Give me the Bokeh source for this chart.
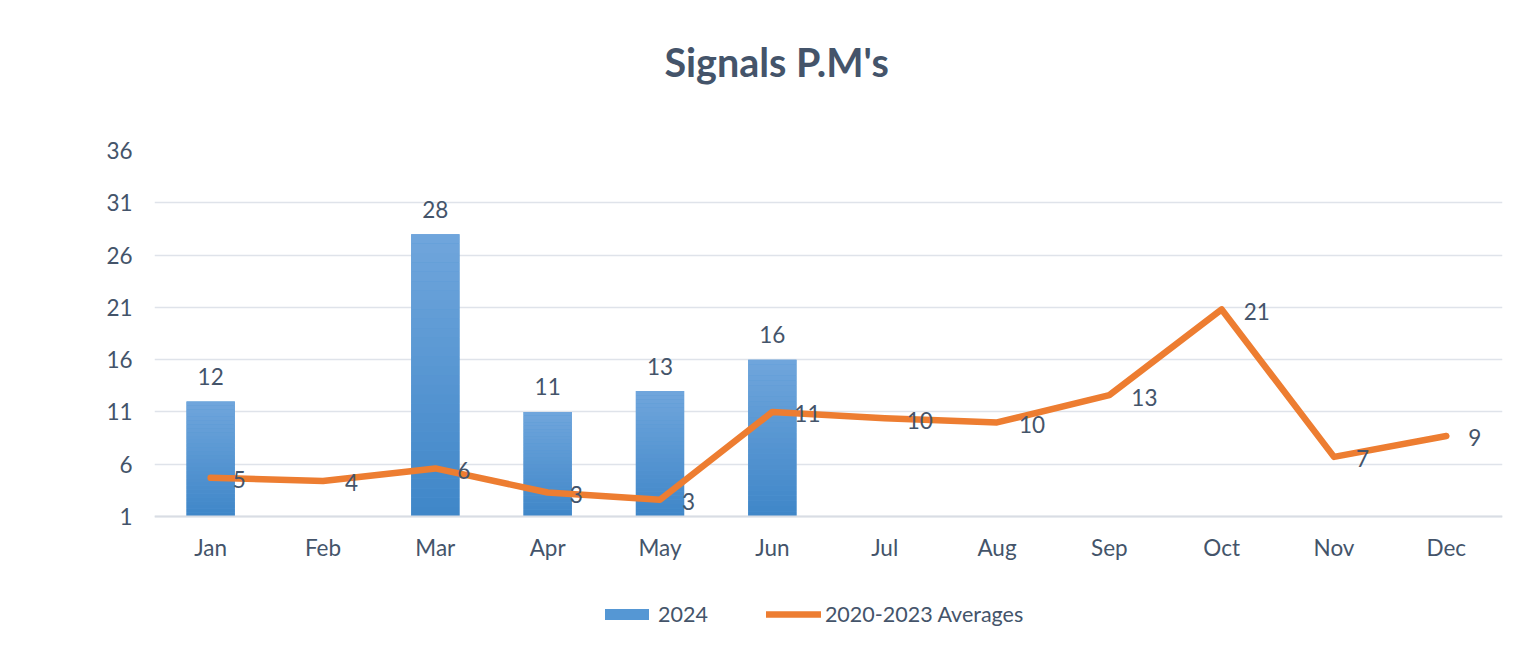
from bokeh.plotting import figure
from bokeh.models import ColumnDataSource, FactorRange, Range1d, FixedTicker, Legend, LegendItem, Title
from bokeh.core.properties import value
from bokeh.embed import file_html
from bokeh.resources import INLINE

months = ["Jan", "Feb", "Mar", "Apr", "May", "Jun", "Jul", "Aug", "Sep", "Oct", "Nov", "Dec"]
bar_months = ["Jan", "Mar", "Apr", "May", "Jun"]
bar_values = [12, 28, 11, 13, 16]
avg_values = [4.7, 4.4, 5.6, 3.3, 2.6, 11.0, 10.4, 10.0, 12.6, 20.8, 6.7, 8.7]
y_ticks = [1, 6, 11, 16, 21, 26, 31, 36]

TEXT = "#44546a"
FONT = "Lato"
FS = "22.5px"
BASE = 1
Y_MAX = 36

# layout: value axis spans 366px for 1..36; the frame extends 139px further down
# so that the category labels and the legend live inside it
PLOT_H = 366
EXTRA = 139
y_start = BASE - EXTRA * (Y_MAX - BASE) / PLOT_H

p = figure(frame_width=1348, frame_height=PLOT_H + EXTRA, output_backend="svg", toolbar_location=None,
           x_range=FactorRange(*months, range_padding=0), y_range=Range1d(y_start, Y_MAX),
           min_border_left=154, min_border_right=6, min_border_top=150, min_border_bottom=0)
p.outline_line_color = None
p.background_fill_color = "white"
p.border_fill_color = "white"

spacer = Title(text=" ", text_font_size="10px", standoff=53)
p.add_layout(spacer, "above")
main_title = Title(text="Signals P.M's", align="left", offset=510, text_font=FONT, text_font_style="bold",
                   text_font_size="39.5px", text_color=TEXT, standoff=0)
p.add_layout(main_title, "above")

# axes
p.yaxis.ticker = FixedTicker(ticks=y_ticks)
p.yaxis.axis_line_color = None
p.yaxis.major_tick_line_color = None
p.yaxis.minor_tick_line_color = None
p.yaxis.major_label_standoff = 16
p.yaxis.major_label_text_font = FONT
p.yaxis.major_label_text_font_size = FS
p.yaxis.major_label_text_color = TEXT

p.xaxis.fixed_location = BASE
p.xaxis.axis_line_color = "#d9dde4"
p.xaxis.axis_line_width = 2
p.xaxis.major_tick_line_color = None
p.xaxis.minor_tick_line_color = None
p.xaxis.major_label_standoff = 11
p.xaxis.major_label_text_font = FONT
p.xaxis.major_label_text_font_size = FS
p.xaxis.major_label_text_color = TEXT

p.xgrid.grid_line_color = None
p.ygrid.grid_line_color = "#dfe3ea"
p.ygrid.grid_line_width = 1.5

# bars with vertical gradient (light top, dark bottom)
bar_src = ColumnDataSource(dict(x=bar_months, top=bar_values, bottom=[BASE] * len(bar_values),
                                lab=[str(v) for v in bar_values]))
bar_r = p.vbar(x="x", top="top", bottom="bottom", width=0.43, source=bar_src,
               fill_color="#5597d4", line_color=None)

N = 30
c_top = (0x70, 0xa6, 0xdc)
c_bot = (0x3f, 0x86, 0xc8)
for k in range(N):
    f0 = k / N
    f1 = (k + 1) / N
    t = (k + 0.5) / N
    col = "#%02x%02x%02x" % tuple(int(round(c_bot[i] + (c_top[i] - c_bot[i]) * t)) for i in range(3))
    bots = [BASE + (v - BASE) * f0 for v in bar_values]
    tops = [BASE + (v - BASE) * f1 for v in bar_values]
    p.vbar(x=bar_months, top=tops, bottom=bots, width=0.43, fill_color=col, line_color=None)

p.text(x="x", y="top", text="lab", source=bar_src, text_align="center", text_baseline="middle",
       y_offset=-25, text_font=value(FONT), text_font_size=FS, text_color=TEXT)

# line
line_src = ColumnDataSource(dict(x=months, y=avg_values, lab=[f"{v:.0f}" for v in avg_values]))
line_r = p.line(x="x", y="y", source=line_src, line_color="#ed7d31", line_width=6.5,
                line_join="round", line_cap="round")
p.text(x="x", y="y", text="lab", source=line_src, text_align="left", text_baseline="middle",
       x_offset=22, y_offset=2, text_font=value(FONT), text_font_size=FS, text_color=TEXT)

legend = Legend(items=[LegendItem(label="2024", renderers=[bar_r]),
                       LegendItem(label="2020-2023 Averages", renderers=[line_r])],
                orientation="horizontal", location=(445, 28))
legend.label_text_font = FONT
legend.label_text_font_size = "21.5px"
legend.label_text_color = TEXT
legend.glyph_width = 55
legend.glyph_height = 14
legend.label_standoff = 4
legend.spacing = 58
legend.padding = 0
legend.margin = 0
legend.border_line_color = None
legend.background_fill_alpha = 0
p.add_layout(legend, "center")

open("out.html", "w").write(file_html(p, INLINE))
